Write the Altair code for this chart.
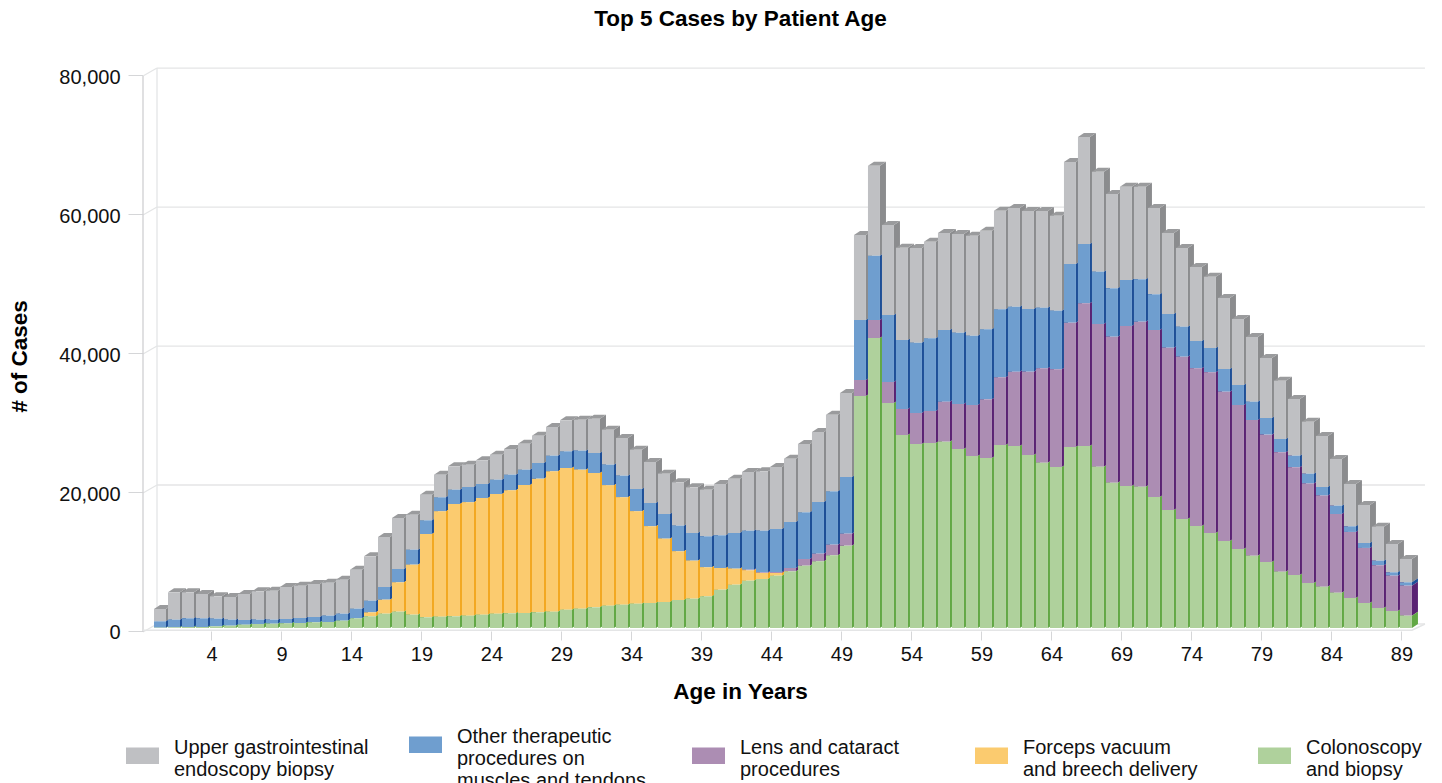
import altair as alt
import numpy as np
import pandas as pd

ages = list(range(1, 91))
series_names = ["Upper gastrointestinal|endoscopy biopsy",
                "Other therapeutic|procedures on|muscles and tendons",
                "Lens and cataract|procedures",
                "Forceps vacuum|and breech delivery",
                "Colonoscopy|and biopsy"]
front_colors = ["#bfc0c3", "#6f9ecf", "#ac8db3", "#fbcb6f", "#afd19c"]
side_colors = ["#8b8c8e", "#1e4f97", "#5a2273", "#f2a822", "#62a845"]

# cumulative height of each stacked segment
green_top = [48,96,144,144,240,336,480,576,624,672,720,816,864,1055,1391,1679,2063,2351,1919,1535,
 1631,1679,1775,1919,2063,2111,2159,2255,2351,2638,2782,2974,3214,3358,3502,3598,3742,4030,4221,4557,
 5517,6236,6812,7052,7531,8155,8971,9594,10457,11849,33385,41731,32378,27773,26478,26622,26809,25758,24751,24463,
 26334,26190,24895,23787,23168,26046,26190,23211,20909,20434,20333,18851,16980,15685,14678,13671,12519,11368,10404,9497,
 8102,7627,6476,5943,5080,4317,3598,2878,2446,1770]
yellow_top = green_top[:14] + [1391,2255,4078,6572,9114,13528,16790,17845,18085,18708,19284,19812,20579,21491,22546,23026,
 22786,22306,20531,18804,16790,14631,12856,11033,9690,8731,8635,8539,8299,7915,7915,8155] + green_top[46:]
purple_top = yellow_top[:42] + [8395,8011,8059,8635,9930,10697,11993,13576,
 35687,44321,35399,31514,30939,31226,32565,32234,32090,32910,36076,36882,36882,37371,37227,43933,46724,43746,41918,43458,
 44077,42882,40335,39040,37371,36795,34004,32090,29931,27826,25299,23137,20786,19056,16406,13824,11520,9024,7536,6096]
blue_top = [959,1199,1391,1391,1343,1199,1151,1199,1199,1295,1439,1583,1775,2063,2782,3934,5900,8491,11273,15494,
 18804,19908,20291,20723,21347,22066,22786,23745,24800,25424,25520,25184,23505,21922,20003,17989,16406,14727,13671,13192,
 13336,13671,14007,14007,14247,15254,16646,18133,19668,21730,44321,53574,45041,41443,41055,41688,42882,42494,42062,42983,
 45861,46235,45904,46091,45659,52380,55258,51272,48883,50077,50178,48019,45185,43357,41299,40292,37270,34968,32565,30219,
 27199,24800,22210,20291,17605,14631,12232,9690,8011,6572]
gray_top = [2734,5133,5133,4893,4557,4461,4893,5277,5373,5900,6092,6332,6524,6956,8395,10314,13096,15830,16310,19188,
 22066,23265,23505,24129,24944,25760,26527,27679,28926,29885,29981,30125,28542,27343,25664,23889,22210,20963,20243,19908,
 20723,21491,22450,22546,23170,24369,26479,28206,30701,33819,56553,66525,57992,54725,54682,55589,56841,56697,56452,57171,
 60050,60438,60006,60006,59330,67057,70655,65662,62453,63503,63503,60438,56841,54682,51948,50552,47487,44465,41875,38853,
 35587,32953,29687,27629,24319,20722,17700,14577,12088,9929]

y_ticks = [0, 20000, 40000, 60000, 80000]
x_ticks = list(range(4, 90, 5))

X_LEFT = -0.893          # front-left corner of the chart box, in age units
X_RIGHT = 91.04
Y_BOTTOM, Y_TOP = -432, 80584
AGE_PX = 14.0
VAL_PX = 143.9
BAR_START = -1.107
BAR_W = 12 / AGE_PX
DEPTH_X = 6 / AGE_PX
DEPTH_Y = 4 * VAL_PX
WALL_X = 14 / AGE_PX
WALL_Y = 4 * VAL_PX

tops = [gray_top, blue_top, purple_top, yellow_top, green_top]
rows = []
for s, name in enumerate(series_names):
    low = tops[s + 1] if s < 4 else [0] * len(ages)
    for i, age in enumerate(ages):
        if tops[s][i] > low[i]:
            rows.append(dict(age=age, series=name, y0=low[i], y1=tops[s][i]))
bars = pd.DataFrame(rows)
bars["left"] = bars.age + BAR_START
bars["right"] = bars.left + BAR_W

faces = []
for d in (0, 1):
    f = bars.copy()
    f["sx"] = f.right + d * DEPTH_X
    f["sy0"] = f.y0 + d * DEPTH_Y
    f["sy1"] = f.y1 + d * DEPTH_Y
    f["tx0"] = f.left + d * DEPTH_X
    f["tx1"] = f.right + d * DEPTH_X
    f["key"] = f.age.astype(str) + f.series
    faces.append(f)
faces = pd.concat(faces)
top_faces = faces[faces.series == series_names[0]]

xs = alt.Scale(domain=[X_LEFT, X_RIGHT], nice=False, zero=False)
ys = alt.Scale(domain=[Y_BOTTOM, Y_TOP], nice=False, zero=False)
grid_color = "#e4e5e6"

x_axis = alt.Axis(
    values=x_ticks, title="Age in Years", grid=False, domain=False,
    tickColor="#d5d6d8", tickSize=9, labelFontSize=20, labelColor="#111",
    labelPadding=4, labelOverlap=False, labelFlush=False, labelFontWeight="normal",
    titleFontSize=22.5, titleFontWeight="bold", titleColor="#000", titleX=597, titleY=60,
    titleBaseline="middle")
y_axis = alt.Axis(
    values=y_ticks, labelExpr="format(datum.value, ',')", title="# of Cases", grid=False, domain=False,
    tickColor="#d5d6d8", tickSize=15, tickOffset=3, labelOffset=2,
    labelFontSize=20, labelColor="#111", labelPadding=8,
    titleFontSize=22.5, titleFontWeight="bold", titleColor="#000",
    titleX=-124, titleY=288, titleBaseline="middle")

walls_back = pd.DataFrame([dict(v=v, x0=X_LEFT + WALL_X, x1=90.68, vb=v + WALL_Y) for v in y_ticks])
back_grid = alt.Chart(walls_back).mark_rule(color=grid_color, strokeWidth=1.3).encode(
    x=alt.X("x0:Q", scale=xs, axis=x_axis), x2="x1:Q", y=alt.Y("vb:Q", scale=ys, axis=y_axis))

skew = []
for v in y_ticks:
    skew.append(dict(v=v, a=X_LEFT, b=v - WALL_Y))
    skew.append(dict(v=v, a=X_LEFT + WALL_X, b=v + WALL_Y))
skew_lines = alt.Chart(pd.DataFrame(skew)).mark_line(color=grid_color, strokeWidth=1.3).encode(
    x=alt.X("a:Q", scale=xs), y=alt.Y("b:Q", scale=ys), detail="v:N")

back_wall = alt.Chart(pd.DataFrame([dict(a=X_LEFT + WALL_X, b0=y_ticks[0] + WALL_Y, b1=y_ticks[-1] + WALL_Y)])).mark_rule(
    color=grid_color, strokeWidth=1.3).encode(
    x=alt.X("a:Q", scale=xs), y=alt.Y("b0:Q", scale=ys), y2="b1:Q")
front_wall = alt.Chart(pd.DataFrame([dict(a=X_LEFT, b0=y_ticks[0] - WALL_Y, b1=y_ticks[-1] - WALL_Y)])).mark_rule(
    color="#cfd0d2", strokeWidth=1.3).encode(
    x=alt.X("a:Q", scale=xs), y=alt.Y("b0:Q", scale=ys), y2="b1:Q")
floor = alt.Chart(pd.DataFrame([dict(a=X_LEFT, b=-2.2 * VAL_PX), dict(a=89.75, b=-2.2 * VAL_PX), dict(a=90.68, b=WALL_Y)])).mark_line(
    color=grid_color, strokeWidth=1.5).encode(
    x=alt.X("a:Q", scale=xs), y=alt.Y("b:Q", scale=ys))

sides = alt.Chart(faces).mark_area(orient="vertical", opacity=1).encode(
    x=alt.X("sx:Q", scale=xs),
    y=alt.Y("sy1:Q", scale=ys),
    y2="sy0:Q",
    detail="key:N",
    color=alt.Color("series:N", legend=None, scale=alt.Scale(domain=series_names, range=side_colors)))

tops_layer = alt.Chart(top_faces).mark_area(orient="horizontal", color="#9a9b9d", opacity=1).encode(
    y=alt.Y("sy1:Q", scale=ys),
    x=alt.X("tx0:Q", scale=xs),
    x2="tx1:Q",
    detail="key:N")

fronts = alt.Chart(bars).mark_rect().encode(
    x=alt.X("left:Q", scale=xs),
    x2="right:Q",
    y=alt.Y("y1:Q", scale=ys),
    y2="y0:Q",
    color=alt.Color("series:N",
        scale=alt.Scale(domain=series_names, range=front_colors),
        legend=alt.Legend(
            orient="none", legendX=-17, legendY=652, columns=5, direction="horizontal",
            title=None, symbolType="M-1,-0.015H1V0.985H-1Z", symbolSize=1089, symbolOpacity=1,
            symbolStrokeWidth=0, labelFontSize=20, labelColor="#111", labelLimit=400,
            labelOffset=15, gridAlign="all", columnPadding=40,
            labelExpr="split(datum.label, '|')")))

chart = alt.layer(back_grid, skew_lines, back_wall, front_wall, floor, sides, tops_layer, fronts).resolve_scale(
    color="independent"
).properties(
    width=1287, height=563,
    padding={"left": 135, "top": 60, "right": 4, "bottom": 152},
    autosize=alt.AutoSizeParams(type="none"),
    title=alt.TitleParams("Top 5 Cases by Patient Age", fontSize=22.5, fontWeight="bold", color="#000",
                          anchor="middle", dx=-46, offset=35),
    background="#ffffff",
).configure(font="Liberation Sans").configure_view(stroke=None)

chart.save("out.html", embed_options={"renderer": "svg", "actions": False})
